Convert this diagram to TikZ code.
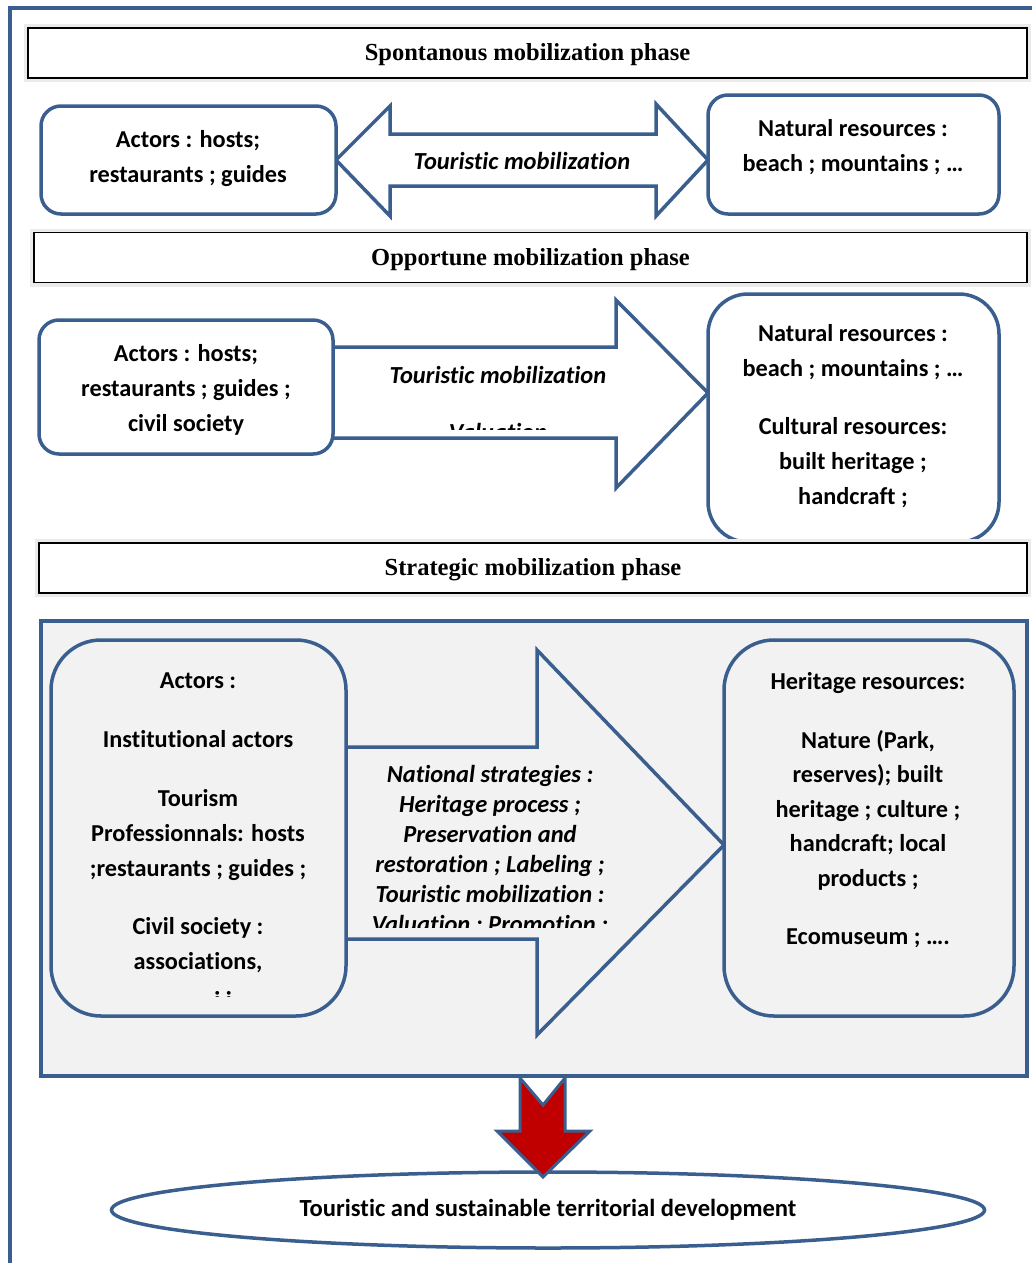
\documentclass[tikz,border=0pt]{standalone}
\usepackage{fontspec}
\setmainfont{Liberation Serif}
\newfontfamily\calib[Ligatures=NoCommon]{Carlito}
\usetikzlibrary{positioning,shapes.geometric}
\definecolor{Frame}{HTML}{3A5F8F}
\definecolor{Panel}{HTML}{F2F2F2}
\definecolor{Alert}{HTML}{C00000}

\begin{document}
\begin{tikzpicture}[x=1pt,y=-1pt,line join=miter,
  every node/.style={align=center,inner sep=0pt},
  hdr/.style={draw=black,line width=1.6pt,fill=white,minimum height=50pt,text depth=2pt,
    font=\bfseries\fontsize{24.5}{28}\selectfont,preaction={draw=black!8,line width=8pt}},
  rbox/.style={draw=Frame,line width=3.5pt,fill=white,rounded corners=#1},
  rbox/.default=20pt,
  arr/.style={draw=Frame,line width=3.5pt,fill=white},
  txt/.style={font=\calib\bfseries\fontsize{24.3}{35}\selectfont},
  itx/.style={font=\calib\bfseries\itshape\fontsize{24.5}{30}\selectfont}]
  \useasboundingbox (0,0) rectangle (1032,1263);
  % outer frame
  \draw[Frame,line width=4pt] (10,1263) -- (10,8) -- (1032,8);

  % spontanous phase
  \node[hdr,minimum width=999pt] (ph1) at (527.5,53) {Spontanous mobilization phase};
  \draw[arr] (336,160) -- (390,106) -- (390,134) -- (656,134) -- (656,104) -- (708,160)
    -- (656,216) -- (656,186) -- (390,186) -- (390,216) -- cycle;
  \node[itx] (mob1) at (522,161) {Touristic mobilization};
  \node[rbox,minimum width=295pt,minimum height=108pt] (act1) at (188.5,160) {};
  \node[txt] (act1t) at (188,158.5) {Actors : hosts;\\restaurants ; guides};
  \node[rbox,minimum width=291pt,minimum height=119pt] (res1) at (853.5,154.5) {};
  \node[txt] (res1t) at (853,147.5) {Natural resources :\\beach ; mountains ; \dots};

  % opportune phase
  \node[hdr,minimum width=993pt] (ph2) at (530.5,257.5) {Opportune mobilization phase};
  \draw[arr] (330,347) -- (616,347) -- (616,300) -- (708,393) -- (616,488) -- (616,438)
    -- (330,438) -- cycle;
  \begin{scope}
    \clip (340,340) rectangle (610,429);
    \node[itx] (mob2) at (498,403) {Touristic mobilization\\[27pt]Valuation};
  \end{scope}
  \node[rbox,minimum width=294pt,minimum height=134pt] (act2) at (186,387) {};
  \node[txt] (act2t) at (186,390) {Actors : hosts;\\restaurants ; guides ;\\civil society};
  \node[rbox=40pt,minimum width=291pt,minimum height=248pt] (res2) at (853.5,418) {};
  \node[txt] (res2t) at (853,416) {Natural resources :\\beach ; mountains ; \dots\\[23pt]
    Cultural resources:\\built heritage ;\\handcraft ;};

  % strategic phase
  \node[hdr,minimum width=988pt] (ph3) at (533,568) {Strategic mobilization phase};
  \node[draw=Frame,line width=3.5pt,fill=Panel,minimum width=986pt,minimum height=455pt] (panel) at (534,848.5) {};
  \draw[arr,fill=Panel] (340,747) -- (537,747) -- (537,650) -- (724,845) -- (537,1035)
    -- (537,939) -- (340,939) -- cycle;
  \begin{scope}
    \clip (355,750) rectangle (625,927);
    \node[itx] (mob3) at (490,850.5) {National strategies :\\Heritage process ;\\Preservation and\\
      restoration ; Labeling ;\\Touristic mobilization :\\Valuation ; Promotion ;};
  \end{scope}
  \node[rbox=50pt,fill=Panel,minimum width=295pt,minimum height=376pt] (act3) at (198.5,828) {};
  \node[txt] (act3t) at (198,823) {Actors :\\[24pt]Institutional actors\\[24pt]Tourism\\
    Professionnals: hosts\\;restaurants ; guides ;\\[23pt]Civil society :\\associations,};
  \begin{scope}
    \clip (150,960) rectangle (300,996);
    \node[txt,anchor=base] (act3c) at (223,1008) {i i};
  \end{scope}
  \node[rbox=50pt,fill=Panel,minimum width=290pt,minimum height=376pt] (res3) at (869,828) {};
  \node[txt,font=\calib\bfseries\fontsize{24.3}{34.5}\selectfont] (res3t) at (868,810.5) {Heritage resources:\\[24pt]
    Nature (Park,\\reserves); built\\heritage ; culture ;\\handcraft; local\\products ;\\[24pt]Ecomuseum ; \dots.};

  % outcome
  \node[draw=Frame,line width=3.5pt,ellipse,fill=white,minimum width=873pt,minimum height=76pt,txt,
    font=\calib\bfseries\fontsize{24.6}{30}\selectfont] (goal)
    at (548,1210) {Touristic and sustainable territorial development};
  \draw[draw=Frame,line width=3pt,fill=Alert] (520,1078) -- (543,1105) -- (565,1078)
    -- (565,1131) -- (590,1131) -- (543,1177) -- (497,1131) -- (520,1131) -- cycle;
\end{tikzpicture}
\end{document}
